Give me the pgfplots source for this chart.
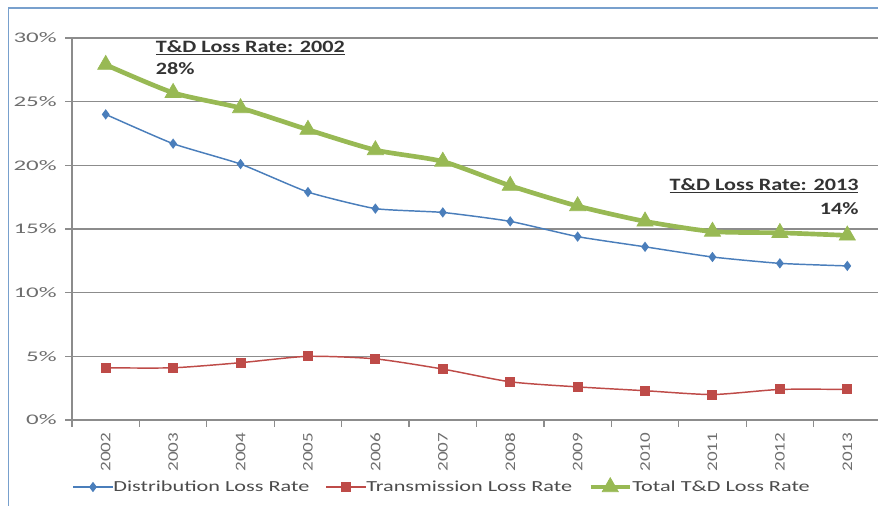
\documentclass[border=0pt]{standalone}
\usepackage{fontspec}
\setmainfont{Carlito}
\newfontfamily\tickfont[FakeStretch=1.3]{Carlito}
\newfontfamily\legfont[FakeStretch=1.45]{Carlito}
\newfontfamily\yfont[FakeStretch=1.7]{Carlito}
\newfontfamily\annfont[FakeStretch=1.28]{Carlito}
\usepackage{pgfplots}
\pgfplotsset{compat=1.18}

\definecolor{distblue}{RGB}{74,126,187}
\definecolor{transred}{RGB}{190,75,72}
\definecolor{totgreen}{RGB}{152,185,84}
\definecolor{framecol}{RGB}{120,160,205}
\definecolor{gridgray}{RGB}{140,140,140}
\definecolor{labgray}{RGB}{110,110,110}

\pgfplotstableread{
idx dist trans total
0  24.0 4.1 27.9
1  21.7 4.1 25.7
2  20.1 4.5 24.5
3  17.9 5.0 22.8
4  16.6 4.8 21.2
5  16.3 4.0 20.3
6  15.6 3.0 18.4
7  14.4 2.6 16.8
8  13.6 2.3 15.6
9  12.8 2.0 14.8
10 12.3 2.4 14.7
11 12.1 2.4 14.5
}\losses

\begin{document}
\begin{tikzpicture}
% page = 878 x 506 px, 1px = 0.75pt
\useasboundingbox (0,0) rectangle (658.5pt,379.5pt);
\begin{scope}
\clip (0,0) rectangle (658.5pt,379.5pt);
% chart frame (left and top edges only; the rest is cropped)
\fill[framecol] (6pt,0pt) rectangle (7pt,374pt);
\fill[framecol] (6pt,373pt) rectangle (658.5pt,374pt);
\begin{axis}[
  at={(54pt,64.5pt)}, anchor=south west,
  scale only axis, width=606.75pt, height=286.5pt,
  xmin=-0.5, xmax=11.5, ymin=0, ymax=30,
  axis x line*=bottom, axis y line*=left,
  axis line style={gridgray, line width=0.9pt},
  ymajorgrids, grid style={gridgray, line width=0.9pt},
  tick align=outside,
  ytick={0,5,...,30},
  yticklabel={\pgfmathprintnumber{\tick}\%},
  yticklabel style={font=\yfont\fontsize{11}{12}\selectfont, text=labgray, xshift=-3pt},
  ytick style={gridgray, line width=0.9pt},
  major tick length=5pt,
  xtick={0,...,11},
  xticklabels={2002,2003,2004,2005,2006,2007,2008,2009,2010,2011,2012,2013},
  xticklabel style={rotate=90, anchor=east, font=\tickfont\fontsize{11}{12}\selectfont, text=labgray, xshift=-1pt},
  minor xtick={-0.5,0.5,...,11.5},
  xtick style={draw=none},
  minor x tick style={draw=gridgray, line width=0.9pt},
  minor tick length=5pt,
  /pgf/number format/assume math mode=true,
  legend columns=3,
  legend style={at={(0.458,-0.175)}, anchor=center, draw=none, fill=none,
    font=\legfont\fontsize{11.5}{13}\selectfont, text=black!70,
    /tikz/every even column/.append style={column sep=10pt},
    /tikz/every odd column/.append style={column sep=-2pt}},
  legend image code/.code={\draw[mark repeat=2, mark phase=2, #1]
    plot coordinates {(0cm,0cm) (0.52cm,0cm) (1.04cm,0cm)};},
  legend cell align=left,
  clip=false,
]
\addplot[distblue, line width=1.1pt, smooth, tension=0.3, mark=diamond*, mark size=3pt, mark options={solid}]
  table[x=idx, y=dist] {\losses};
\addlegendentry{Distribution Loss Rate}
\addplot[transred, line width=1.1pt, smooth, tension=0.4, mark=square*, mark size=3.2pt, mark options={solid}]
  table[x=idx, y=trans] {\losses};
\addlegendentry{Transmission Loss Rate}
\addplot[totgreen, line width=3.5pt, smooth, tension=0.4, mark=triangle*, mark size=7pt, mark options={solid, line width=0.5pt}]
  table[x=idx, y=total] {\losses};
\addlegendentry{Total T\&D Loss Rate}

\node[anchor=west, font=\annfont\bfseries\fontsize{13}{14}\selectfont, text=black!80, inner sep=0pt]
  at (axis cs:0.74,29.25) {\underline{T\&D Loss Rate: 2002}};
\node[anchor=west, font=\annfont\bfseries\fontsize{13}{14}\selectfont, text=black!80, inner sep=0pt]
  at (axis cs:0.74,27.6) {28\%};
\node[anchor=east, font=\annfont\bfseries\fontsize{13}{14}\selectfont, text=black!80, inner sep=0pt]
  at (axis cs:11.17,18.4) {\underline{T\&D Loss Rate: 2013}};
\node[anchor=east, font=\annfont\bfseries\fontsize{13}{14}\selectfont, text=black!80, inner sep=0pt]
  at (axis cs:11.17,16.6) {14\%};
\end{axis}
\end{scope}
\end{tikzpicture}
\end{document}
